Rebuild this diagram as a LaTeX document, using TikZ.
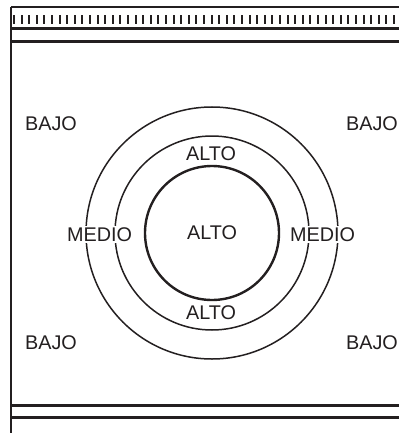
\documentclass[tikz,border=0pt]{standalone}
\usepackage{fontspec}
\setmainfont{Liberation Sans}
\definecolor{ZnInk}{HTML}{231F20}
\begin{document}
\begin{tikzpicture}[x=1pt,y=-1pt,
    ring/.style={circle,draw=ZnInk,inner sep=0pt,outer sep=0pt,line width=1.5pt},
    zone/.style={font=\fontsize{19.8}{20}\selectfont,text=ZnInk,inner sep=1pt},
    rail/.style={draw=ZnInk,line width=3pt}]
  \useasboundingbox (0,0) rectangle (399,433);

  % frame
  \draw[ZnInk,line width=1.1pt] (11,7) -- (399,7);
  \draw[ZnInk,line width=1.5pt] (11,7) -- (11,433);
  \foreach \i in {0,...,50}
    \draw[ZnInk,line width=2pt] ({14+7.6*\i},15.5) -- ++(0,9);
  \draw[rail] (11,28.5) -- (399,28.5);
  \draw[rail] (11,41.5) -- (399,41.5);
  \draw[rail] (11,405) -- (399,405);
  \draw[rail] (11,417.5) -- (399,417.5);

  % rings
  \node[ring,minimum size=252pt] (outer) at (212,233) {};
  \node[ring,minimum size=194pt] (middle) at (212,233) {};
  \node[ring,line width=2.4pt,minimum size=134pt,zone] (inner) at (212,233) {ALTO};

  \node[zone] (altotop) at (211,153.5) {ALTO};
  \node[zone] (altobot) at (211,312.5) {ALTO};
  \node[zone,fill=white] (medioleft) at (99.5,234.5) {MEDIO};
  \node[zone,fill=white] (medioright) at (322.5,234.5) {MEDIO};

  \node[zone] (bajotl) at (51,124) {BAJO};
  \node[zone] (bajotr) at (372,124) {BAJO};
  \node[zone] (bajobl) at (51,343) {BAJO};
  \node[zone] (bajobr) at (372,343) {BAJO};
\end{tikzpicture}
\end{document}
